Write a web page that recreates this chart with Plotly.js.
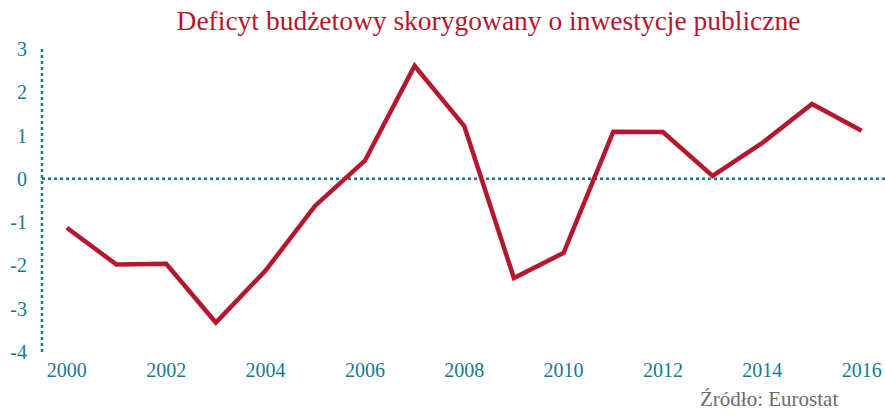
<!DOCTYPE html>
<html><head><meta charset="utf-8">
<script src="https://cdn.plot.ly/plotly-3.0.1.min.js"></script>
<style>html,body{margin:0;padding:0;background:#fff}</style>
</head><body>
<div id="chart" style="width:885px;height:417px"></div>
<script>
const years = [2000,2001,2002,2003,2004,2005,2006,2007,2008,2009,2010,2011,2012,2013,2014,2015,2016];
const deficit = [-1.13,-1.98,-1.96,-3.32,-2.12,-0.62,0.42,2.61,1.22,-2.29,-1.71,1.09,1.08,0.07,0.83,1.73,1.11];
const yTicks = [3,2,1,0,-1,-2,-3,-4];
const xTicks = [2000,2002,2004,2006,2008,2010,2012,2014,2016];
const titleText = 'Deficyt budżetowy skorygowany o inwestycje publiczne';
const sourceText = 'Źródło: Eurostat';

const teal = '#17798f';
const red = '#b5172e';
const font = 'Liberation Serif, DejaVu Serif, serif';

Plotly.newPlot('chart', [{
  x: years, y: deficit, type: 'scatter', mode: 'lines',
  line: {color: red, width: 4.5}, hoverinfo: 'skip'
}], {
  width: 885, height: 417,
  margin: {l: 42, r: 0, t: 49, b: 65},
  paper_bgcolor: '#fff', plot_bgcolor: '#fff',
  showlegend: false,
  title: {text: titleText, font: {family: font, size: 27.5, color: red}, x: 0.552, xanchor: 'center', y: 0.95, yanchor: 'middle'},
  xaxis: {range: [1999.5, 2016.47], tickvals: xTicks, ticktext: xTicks.map(String),
    showgrid: false, zeroline: false, showline: false, ticks: '',
    tickfont: {family: font, size: 20, color: teal}, ticklabelstandoff: 4},
  yaxis: {range: [-4, 3], tickvals: yTicks, ticktext: yTicks.map(String),
    showgrid: false, zeroline: false, showline: false, ticks: '',
    tickfont: {family: font, size: 20, color: teal}, ticklabelstandoff: 14},
  shapes: [
    {type: 'line', xref: 'paper', yref: 'paper', x0: 0, x1: 0, y0: 0, y1: 1,
     line: {color: teal, width: 2.5, dash: 'dot'}},
    {type: 'line', xref: 'paper', yref: 'y', x0: 0, x1: 1, y0: 0, y1: 0,
     line: {color: teal, width: 2.5, dash: 'dot'}, layer: 'below'}
  ],
  annotations: [{text: sourceText, xref: 'paper', yref: 'paper', x: 0.947, xanchor: 'right',
    y: -0.155, yanchor: 'middle', showarrow: false,
    font: {family: font, size: 21, color: '#6b6b6b'}}]
}, {displayModeBar: false, staticPlot: true});
</script>
</body></html>
